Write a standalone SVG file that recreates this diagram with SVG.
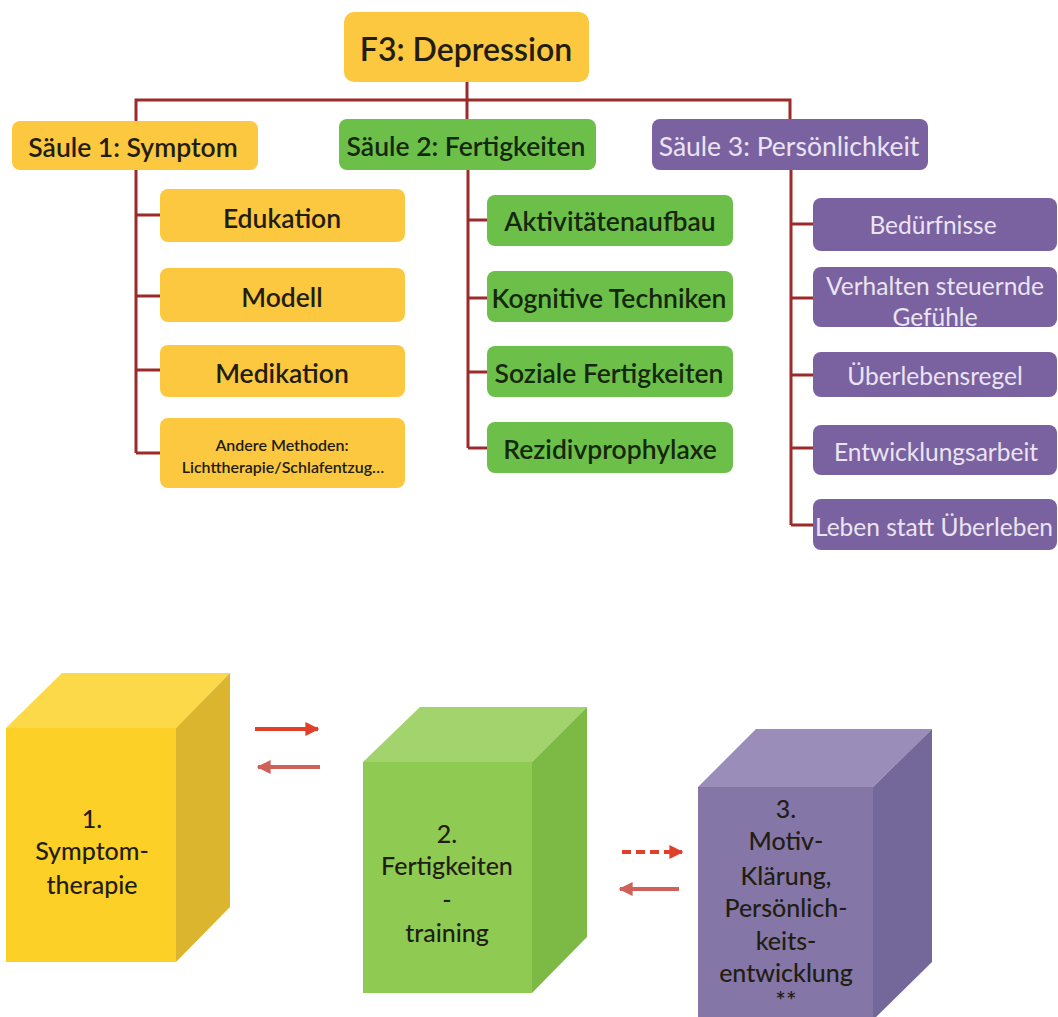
<svg xmlns="http://www.w3.org/2000/svg" width="1058" height="1017" viewBox="0 0 1058 1017">
<defs>
<style>
.y{fill:#fcc840}
.g{fill:#6cc04a}
.p{fill:#7a62a0}
.t{font-family:Lato,"Open Sans",sans-serif;text-anchor:middle;dominant-baseline:central}
.dk{fill:#221d10;font-weight:600}
.dg{fill:#16280c;font-weight:600}
.lt{fill:#ebe4f4;font-weight:400}
.ln{stroke:#9b2a2a;stroke-width:3;fill:none}
.cube{font-family:Lato,"Open Sans",sans-serif;text-anchor:middle;dominant-baseline:central;font-size:25px;fill:#221d12;font-weight:500}
</style>
<marker id="ah" viewBox="0 0 10 10" refX="9" refY="5" markerWidth="3.5" markerHeight="3.5" orient="auto-start-reverse" markerUnits="strokeWidth">
<path d="M0,0 L10,5 L0,10 z" fill="#e0402a"/>
</marker>
<marker id="ah2" viewBox="0 0 10 10" refX="9" refY="5" markerWidth="3.5" markerHeight="3.5" orient="auto-start-reverse" markerUnits="strokeWidth">
<path d="M0,0 L10,5 L0,10 z" fill="#d0605a"/>
</marker>
</defs>
<rect width="1058" height="1017" fill="#ffffff"/>

<g id="connectors">
<path class="ln" d="M467,82 V119 M136,121 V100 H790 V119"/>
<path class="ln" d="M136,170 V453 M136,215 H160 M136,296 H160 M136,370 H160 M136,453 H160"/>
<path class="ln" d="M468,170 V448 M468,220 H487 M468,298 H487 M468,372 H487 M468,448 H487"/>
<path class="ln" d="M791,170 V525 M791,224 H813 M791,298 H813 M791,375 H813 M791,448 H813 M791,525 H813"/>
<line x1="255" y1="729" x2="318" y2="729" stroke="#e0402a" stroke-width="4" marker-end="url(#ah)"/>
<line x1="320" y1="767" x2="258" y2="767" stroke="#d0605a" stroke-width="4" marker-end="url(#ah2)"/>
<line x1="622" y1="852" x2="682" y2="852" stroke="#e0402a" stroke-width="4" stroke-dasharray="9,5" marker-end="url(#ah)"/>
<line x1="679" y1="889" x2="620" y2="889" stroke="#d0605a" stroke-width="4" marker-end="url(#ah2)"/>
</g>

<g id="f3"><rect class="y" x="344" y="12" width="245" height="70" rx="10"/><text class="t dk" x="466" y="48" font-size="32">F3: Depression</text></g>

<g id="saeule1"><rect class="y" x="12" y="121" width="246" height="49" rx="8"/><text class="t dk" x="133" y="147" font-size="26.5">Säule 1: Symptom</text></g>
<g id="saeule2"><rect class="g" x="339" y="119" width="257" height="51" rx="8"/><text class="t dg" x="466" y="146" font-size="26.5">Säule 2: Fertigkeiten</text></g>
<g id="saeule3"><rect class="p" x="652" y="119" width="276" height="51" rx="8"/><text class="t lt" x="789" y="146" font-size="26.5">Säule 3: Persönlichkeit</text></g>

<g id="edukation"><rect class="y" x="160" y="189" width="245" height="53" rx="8"/><text class="t dk" x="282" y="218" font-size="26.5">Edukation</text></g>
<g id="modell"><rect class="y" x="160" y="268" width="245" height="54" rx="8"/><text class="t dk" x="282" y="297" font-size="26.5">Modell</text></g>
<g id="medikation"><rect class="y" x="160" y="345" width="245" height="52" rx="8"/><text class="t dk" x="282" y="373" font-size="26.5">Medikation</text></g>
<g id="andere"><rect class="y" x="160" y="418" width="245" height="70" rx="8"/><text class="t dk" x="282" y="444" font-size="16">Andere Methoden:</text><text class="t dk" x="283" y="466" font-size="16">Lichttherapie/Schlafentzug…</text></g>

<g id="aktivitaeten"><rect class="g" x="487" y="195" width="246" height="51" rx="8"/><text class="t dg" x="610" y="221" font-size="26.5">Aktivitätenaufbau</text></g>
<g id="kognitive"><rect class="g" x="487" y="271" width="246" height="51" rx="8"/><text class="t dg" x="609" y="298" font-size="26.5">Kognitive Techniken</text></g>
<g id="soziale"><rect class="g" x="487" y="346" width="246" height="51" rx="8"/><text class="t dg" x="609" y="373" font-size="26.5">Soziale Fertigkeiten</text></g>
<g id="rezidiv"><rect class="g" x="487" y="422" width="246" height="51" rx="8"/><text class="t dg" x="610" y="449" font-size="26.5">Rezidivprophylaxe</text></g>

<g id="beduerfnisse"><rect class="p" x="813" y="198" width="244" height="53" rx="8"/><text class="t lt" x="933" y="224" font-size="24.5">Bedürfnisse</text></g>
<g id="verhalten"><rect class="p" x="813" y="267" width="244" height="60" rx="8"/><text class="t lt" x="935" y="285" font-size="24.5">Verhalten steuernde</text><text class="t lt" x="935" y="316" font-size="24.5">Gefühle</text></g>
<g id="ueberlebensregel"><rect class="p" x="813" y="352" width="244" height="45" rx="8"/><text class="t lt" x="935" y="375" font-size="24.5">Überlebensregel</text></g>
<g id="entwicklungsarbeit"><rect class="p" x="813" y="425" width="244" height="50" rx="8"/><text class="t lt" x="936" y="451" font-size="24.5">Entwicklungsarbeit</text></g>
<g id="leben"><rect class="p" x="813" y="499" width="244" height="51" rx="8"/><text class="t lt" x="934" y="526" font-size="24.5">Leben statt Überleben</text></g>

<g id="cube1">
<polygon points="6,728 62,673 230,673 176,728" fill="#fcd949"/>
<polygon points="176,728 230,673 230,907 176,962" fill="#dcb52e"/>
<rect x="6" y="728" width="170" height="234" fill="#fcd026"/>
<text class="cube" x="92" y="818">1.</text>
<text class="cube" x="92" y="850">Symptom-</text>
<text class="cube" x="92" y="884">therapie</text>
</g>
<g id="cube2">
<polygon points="363,762 420,707 587,707 532,762" fill="#a2d36c"/>
<polygon points="532,762 587,707 587,937 532,993" fill="#7dba45"/>
<rect x="363" y="762" width="169" height="231" fill="#8fca52"/>
<text class="cube" x="447" y="833">2.</text>
<text class="cube" x="447" y="865">Fertigkeiten</text>
<text class="cube" x="447" y="899">-</text>
<text class="cube" x="447" y="932">training</text>
</g>
<g id="cube3">
<polygon points="698,787 756,729 932,729 873,787" fill="#9a8dba"/>
<polygon points="873,787 932,729 932,962 873,1020" fill="#74679a"/>
<rect x="698" y="787" width="175" height="233" fill="#8576a8"/>
<text class="cube" x="786" y="808">3.</text>
<text class="cube" x="786" y="840">Motiv-</text>
<text class="cube" x="786" y="875">Klärung,</text>
<text class="cube" x="786" y="907">Persönlich-</text>
<text class="cube" x="786" y="940">keits-</text>
<text class="cube" x="786" y="972">entwicklung</text>
<text class="cube" x="786" y="1000">**</text>
</g>
</svg>
